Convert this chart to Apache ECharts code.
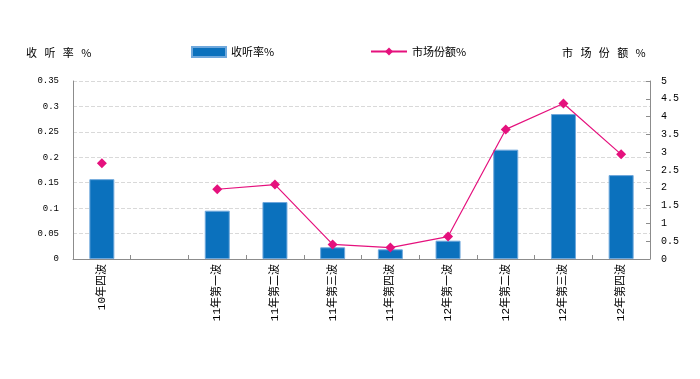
<!DOCTYPE html>
<html><head><meta charset="utf-8">
<script src="https://cdn.jsdelivr.net/npm/echarts@6/dist/echarts.min.js"></script>
<style>html,body{margin:0;padding:0;background:#fff}#c{width:700px;height:379px}</style>
</head><body><div id="c"></div>
<script>
var categories = ['10年四波', '', '11年第一波', '11年第二波', '11年第三波', '11年第四波', '12年第一波', '12年第二波', '12年第三波', '12年第四波'];
var ratingValues = [0.157, null, 0.095, 0.112, 0.023, 0.019, 0.036, 0.215, 0.285, 0.165];
var shareValues = [2.69, null, 1.96, 2.09, 0.41, 0.32, 0.63, 3.64, 4.37, 2.94];
var leftTicks = {min: 0, max: 0.35, interval: 0.05};
var rightTicks = {min: 0, max: 5, interval: 0.5};
var leftTitle = '收   听   率   %';
var rightTitle = '市   场   份   额   %';
var barName = '收听率%';
var lineName = '市场份额%';

var mono = "'Liberation Mono', 'Noto Sans CJK SC'";
var cjk = "'Noto Sans CJK SC'";
var chart = echarts.init(document.getElementById('c'));
chart.setOption({
  animation: false,
  grid: {left: 73, right: 50, top: 81, bottom: 120},
  legend: [
    {data: [{name: barName, icon: 'rect'}], left: 191, top: 46, padding: 0, itemWidth: 34, itemHeight: 10, itemGap: 6,
     textStyle: {fontFamily: cjk, fontSize: 11, color: '#000'}},
    {data: [lineName], left: 370, top: 46, padding: 0, itemWidth: 36, itemHeight: 10, itemGap: 5,
     textStyle: {fontFamily: cjk, fontSize: 11, color: '#000'}}
  ],
  graphic: [
    {type: 'text', left: 26, top: 47, style: {text: leftTitle, font: "11px 'Noto Sans CJK SC'", fill: '#000'}},
    {type: 'text', left: 562, top: 47, style: {text: rightTitle, font: "11px 'Noto Sans CJK SC'", fill: '#000'}}
  ],
  xAxis: {
    type: 'category', data: categories, boundaryGap: true,
    axisLine: {lineStyle: {color: '#8c8c8c'}},
    axisTick: {show: true, inside: true, length: 4, alignWithLabel: false, lineStyle: {color: '#8c8c8c'}},
    axisLabel: {rotate: 90, interval: 0, fontFamily: mono, fontSize: 11, color: '#000', margin: 5}
  },
  yAxis: [
    {type: 'value', min: leftTicks.min, max: leftTicks.max, interval: leftTicks.interval,
     axisLine: {show: true, lineStyle: {color: '#8c8c8c'}},
     axisTick: {show: false},
     splitLine: {show: true, lineStyle: {color: '#d9d9d9', type: 'dashed'}},
     axisLabel: {fontFamily: mono, fontSize: 9, color: '#000', margin: 14,
       formatter: function (v) { return String(+v.toFixed(2)); }}},
    {type: 'value', min: rightTicks.min, max: rightTicks.max, interval: rightTicks.interval,
     position: 'right',
     axisLine: {show: true, lineStyle: {color: '#8c8c8c'}},
     axisTick: {show: true, inside: true, length: 4, lineStyle: {color: '#8c8c8c'}},
     splitLine: {show: false},
     axisLabel: {fontFamily: mono, fontSize: 10, color: '#000', margin: 11,
       formatter: function (v) { return String(+v.toFixed(1)); }}}
  ],
  series: [
    {name: barName, type: 'bar', yAxisIndex: 0, data: ratingValues, barWidth: 25,
     itemStyle: {color: '#0B71BD', borderColor: '#6FA8DC', borderWidth: 1}},
    {name: lineName, type: 'line', yAxisIndex: 1, data: shareValues, connectNulls: false,
     symbol: 'diamond', symbolSize: 10,
     lineStyle: {color: '#E5117D', width: 1.2},
     itemStyle: {color: '#E5117D'}}
  ]
});
</script></body></html>
